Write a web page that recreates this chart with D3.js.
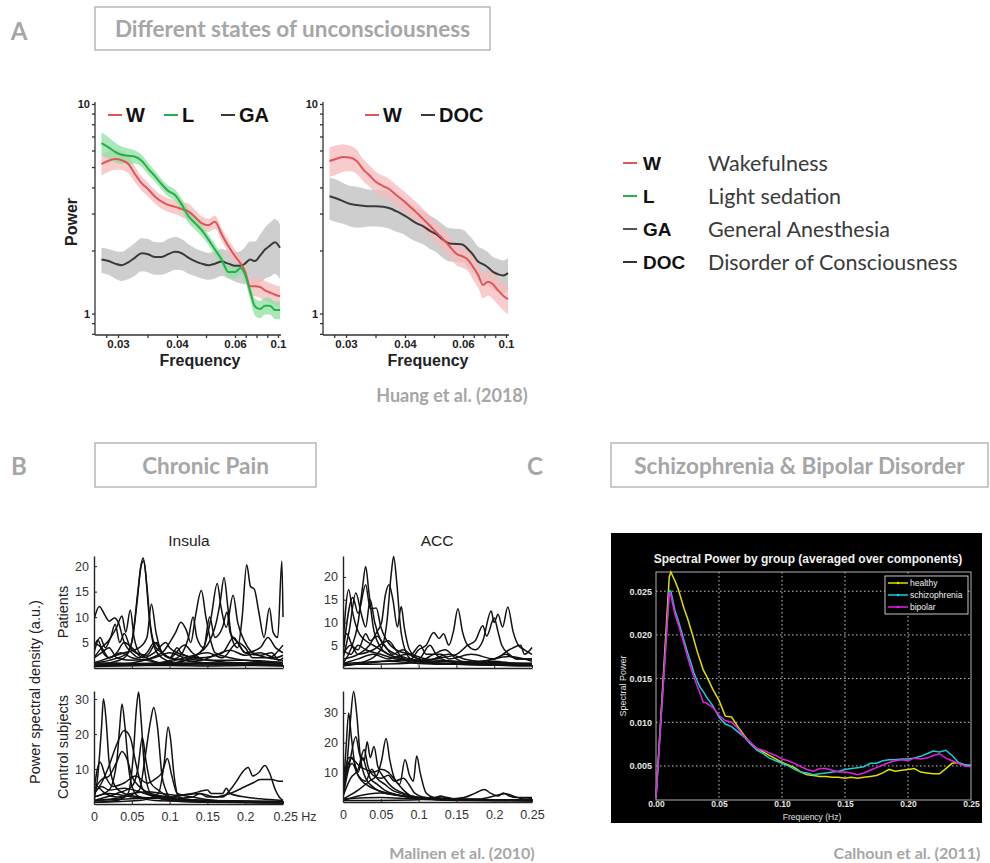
<!DOCTYPE html>
<html>
<head>
<meta charset="utf-8">
<script src="https://cdn.jsdelivr.net/npm/d3@7"></script>
<style>
  body { margin: 0; background: #fff; }
  svg { display: block; }
</style>
</head>
<body>
<svg id="fig" width="990" height="863"></svg>
<script>
// ---------------- Panel A: power spectra (log power, Huang et al. 2018) ----------------
const freqA = [0.0272,0.0284,0.0295,0.0306,0.0318,0.0329,0.0340,0.0351,0.0363,0.0374,0.0385,0.0397,0.0416,0.0439,0.0462,0.0485,0.0508,0.0531,0.0554,0.0577,0.0600,0.0653,0.0693,0.0740,0.0786,0.0833,0.0879,0.0926,0.0972,0.1019];
const freqTicksA = [0.03, 0.04, 0.06, 0.1];

// left plot: wakefulness, light sedation, general anesthesia
const wakeA     = [5.16,5.36,5.46,5.39,5.16,4.62,4.19,3.92,3.61,3.42,3.30,3.23,3.15,3.07,2.89,2.70,2.64,2.74,2.39,2.10,1.88,1.73,1.59,1.35,1.35,1.34,1.29,1.26,1.23,1.21];
const semWakeA  = [0.60,0.61,0.60,0.55,0.50,0.40,0.33,0.30,0.27,0.26,0.25,0.25,0.26,0.28,0.24,0.21,0.19,0.20,0.17,0.15,0.14,0.13,0.13,0.13,0.14,0.15,0.14,0.14,0.14,0.14];
const lightA    = [6.51,6.21,5.91,5.72,5.66,5.60,5.36,4.92,4.51,4.14,3.85,3.67,3.32,2.92,2.70,2.50,2.26,2.02,1.81,1.58,1.58,1.65,1.54,1.28,1.08,1.05,1.09,1.09,1.04,1.04];
const semLightA = [0.81,0.73,0.64,0.55,0.48,0.40,0.36,0.31,0.27,0.24,0.23,0.23,0.22,0.21,0.18,0.16,0.13,0.12,0.11,0.10,0.11,0.11,0.11,0.11,0.10,0.10,0.10,0.10,0.10,0.10];
const anesA     = [1.81,1.78,1.73,1.70,1.76,1.85,1.94,1.92,1.86,1.86,1.92,1.97,1.94,1.85,1.78,1.73,1.70,1.73,1.77,1.73,1.69,1.69,1.73,1.81,1.78,1.89,2.02,2.11,2.19,2.06];
const semAnesA  = [0.25,0.25,0.26,0.27,0.30,0.33,0.35,0.35,0.33,0.33,0.35,0.35,0.33,0.30,0.27,0.26,0.25,0.26,0.26,0.26,0.27,0.30,0.35,0.40,0.43,0.49,0.55,0.61,0.64,0.60];

// right plot: wakefulness vs disorder of consciousness
const wakeB     = [5.35,5.48,5.59,5.55,5.35,4.88,4.56,4.24,4.06,3.91,3.68,3.46,3.25,3.04,2.83,2.63,2.44,2.27,2.09,1.93,1.87,1.79,1.67,1.53,1.37,1.42,1.38,1.29,1.22,1.17];
const semWakeB  = [0.85,0.87,0.84,0.78,0.70,0.59,0.53,0.50,0.48,0.46,0.43,0.40,0.38,0.36,0.33,0.31,0.29,0.27,0.24,0.23,0.22,0.21,0.22,0.20,0.19,0.20,0.21,0.19,0.18,0.18];
const docB      = [3.63,3.54,3.44,3.34,3.30,3.27,3.25,3.25,3.23,3.18,3.08,2.96,2.83,2.70,2.61,2.49,2.39,2.25,2.16,2.15,2.13,2.01,1.91,1.77,1.72,1.66,1.58,1.54,1.52,1.56];
const semDocB   = [0.83,0.81,0.76,0.73,0.73,0.69,0.65,0.65,0.65,0.64,0.62,0.56,0.54,0.49,0.47,0.45,0.43,0.41,0.39,0.39,0.38,0.36,0.34,0.32,0.31,0.30,0.28,0.28,0.27,0.28];

const legendCodes = ["W", "L", "GA", "DOC"];
const legendNames = ["Wakefulness", "Light sedation", "General Anesthesia", "Disorder of Consciousness"];

// ---------------- Panel B: individual spectra (Malinen et al. 2010) ----------------
// each curve is a list of [frequency (Hz), power (a.u.)]
const insulaPatients = [
  [[0,0.5],[0.02,1],[0.04,2],[0.05,5],[0.057,13],[0.062,20],[0.065,21.6],[0.068,19],[0.073,10],[0.08,4],[0.09,2],[0.11,1],[0.15,0.8],[0.2,0.6],[0.25,0.5]],
  [[0,1],[0.02,1.5],[0.045,3],[0.052,7],[0.058,15],[0.063,20.5],[0.066,21],[0.07,16],[0.075,8],[0.082,4],[0.09,3],[0.1,2],[0.12,1.5],[0.15,1],[0.2,1],[0.25,1.2]],
  [[0,9.5],[0.007,12.1],[0.014,10.5],[0.02,9.2],[0.027,9.8],[0.032,9],[0.04,5],[0.05,3],[0.06,2],[0.07,3],[0.08,5],[0.09,3],[0.1,2],[0.12,4.5],[0.13,3],[0.15,1.5],[0.2,1],[0.25,1]],
  [[0,2],[0.01,4],[0.02,5.5],[0.03,8],[0.037,10.2],[0.042,7],[0.048,11.4],[0.053,6],[0.06,3],[0.07,2],[0.09,1],[0.12,1],[0.25,0.5]],
  [[0,3],[0.008,6],[0.015,4],[0.022,6],[0.028,8.6],[0.034,5],[0.04,6.8],[0.048,4],[0.055,3],[0.07,2.5],[0.083,5],[0.09,3],[0.1,2],[0.11,4],[0.115,3],[0.13,2],[0.16,1.5],[0.2,1.5],[0.25,1]],
  [[0,1],[0.02,2],[0.04,3],[0.06,4],[0.07,6],[0.076,12.5],[0.082,7],[0.09,3],[0.1,2],[0.12,1.5],[0.15,1],[0.25,0.8]],
  [[0,0.5],[0.05,1],[0.09,3],[0.1,5],[0.108,7],[0.115,9],[0.122,7.5],[0.128,5],[0.134,10],[0.142,15.2],[0.148,10],[0.155,5],[0.16,3],[0.18,2],[0.2,1.5],[0.25,1]],
  [[0,0.5],[0.1,1],[0.13,2],[0.145,4],[0.155,10],[0.163,16.6],[0.168,12],[0.175,8],[0.184,14.3],[0.19,9],[0.2,5],[0.21,3],[0.23,2],[0.25,1.5]],
  [[0,0.3],[0.1,0.8],[0.14,3],[0.16,8],[0.167,13],[0.172,17.8],[0.177,12],[0.182,6],[0.19,4],[0.196,10],[0.202,20.3],[0.207,16],[0.212,15.5],[0.218,11],[0.225,6],[0.232,11.8],[0.237,7],[0.243,6],[0.2485,21],[0.25,10]],
  [[0,0.8],[0.08,1],[0.11,2],[0.125,6],[0.131,10],[0.136,6],[0.145,4],[0.153,10],[0.16,6],[0.17,8],[0.176,11],[0.18,7],[0.19,5],[0.2,3],[0.22,4],[0.23,6],[0.24,4],[0.25,3]],
  [[0,4],[0.005,5.5],[0.012,3],[0.02,2],[0.035,3],[0.05,2],[0.07,1.5],[0.09,1],[0.12,2],[0.15,3],[0.17,2],[0.19,5],[0.2,4],[0.21,2],[0.23,2],[0.25,4.5]],
  [[0,1],[0.03,1],[0.06,0.8],[0.1,0.7],[0.15,0.6],[0.2,0.7],[0.25,0.6]],
  [[0,5],[0.01,4],[0.02,2],[0.03,3],[0.04,5],[0.05,4],[0.065,2],[0.08,3],[0.095,5],[0.1,4],[0.11,3],[0.14,2],[0.17,3],[0.185,6],[0.19,5],[0.2,3],[0.22,2.5],[0.235,3],[0.245,1.5],[0.25,2]],
  [[0,2],[0.01,3],[0.02,4],[0.03,2],[0.05,1.5],[0.08,2],[0.1,3],[0.12,2],[0.14,1.5],[0.16,2.5],[0.18,3.5],[0.2,2.5],[0.22,3],[0.24,2],[0.25,2.5]],
  [[0,0.5],[0.05,0.5],[0.1,0.5],[0.15,0.4],[0.2,0.5],[0.25,0.4]]
];
const insulaControls = [
  [[0,1],[0.005,8],[0.01,22],[0.0125,30],[0.016,24],[0.02,12],[0.028,5],[0.04,3],[0.06,2],[0.1,1.5],[0.15,1],[0.25,0.5]],
  [[0,2],[0.02,4],[0.03,12],[0.034,22],[0.037,28.6],[0.041,22],[0.046,10],[0.052,4],[0.06,2],[0.08,1],[0.12,0.8],[0.25,0.5]],
  [[0,0.5],[0.03,1],[0.045,3],[0.052,14],[0.056,27],[0.059,32],[0.062,25],[0.067,10],[0.075,3],[0.09,1.5],[0.12,1],[0.25,0.3]],
  [[0,1],[0.04,2],[0.06,4],[0.068,14],[0.075,24],[0.079,27.6],[0.084,22],[0.09,8],[0.095,4],[0.1,2],[0.13,1],[0.25,0.5]],
  [[0,0.5],[0.06,1],[0.085,3],[0.093,12],[0.098,22],[0.101,19],[0.106,8],[0.112,2],[0.13,1],[0.25,0.3]],
  [[0,3],[0.01,6],[0.02,11],[0.03,17],[0.04,21],[0.048,19],[0.055,12],[0.063,5],[0.07,3],[0.09,2],[0.12,1],[0.25,0.5]],
  [[0,1],[0.03,3],[0.05,5],[0.058,10],[0.064,19],[0.069,12],[0.075,6],[0.085,4],[0.1,2],[0.13,1],[0.25,0.5]],
  [[0,4],[0.01,7],[0.02,8],[0.03,12],[0.037,15],[0.045,12],[0.05,8],[0.06,5],[0.075,3],[0.1,2],[0.15,1],[0.25,0.8]],
  [[0,4],[0.008,12],[0.015,8],[0.025,5],[0.04,6],[0.055,8],[0.07,6],[0.08,7],[0.09,9],[0.097,13],[0.103,8],[0.11,3],[0.13,2],[0.16,1],[0.25,0.5]],
  [[0,2],[0.02,3],[0.05,2],[0.1,1.5],[0.13,2],[0.14,3],[0.15,2],[0.17,2],[0.18,4],[0.19,7],[0.196,9],[0.204,10.4],[0.21,8],[0.218,9],[0.226,11],[0.232,9],[0.24,4],[0.245,2],[0.25,1]],
  [[0,1],[0.05,1.5],[0.1,2],[0.14,3],[0.16,2],[0.18,3],[0.2,5],[0.21,6],[0.22,7],[0.235,7],[0.245,6.5],[0.25,6.5]],
  [[0,6],[0.005,5],[0.015,3],[0.03,2],[0.05,3],[0.07,3.5],[0.09,3],[0.11,2.5],[0.13,3],[0.15,4],[0.155,3],[0.17,3],[0.175,4.5],[0.18,3],[0.2,2],[0.22,1.5],[0.25,1]],
  [[0,3],[0.01,5],[0.02,4],[0.04,4.5],[0.06,3.5],[0.08,2],[0.1,1],[0.14,0.5],[0.25,0.3]]
];
const accPatients = [
  [[0,5],[0.0075,17.2],[0.013,12],[0.02,8],[0.03,6],[0.04,5],[0.05,4],[0.06,3],[0.08,2],[0.1,1.5],[0.15,1],[0.25,0.8]],
  [[0,2],[0.008,8],[0.017,16.5],[0.024,12],[0.03,9],[0.036,15],[0.042,10],[0.05,6],[0.06,4],[0.07,3],[0.09,2],[0.12,1.5],[0.25,1]],
  [[0,1],[0.01,4],[0.02,10],[0.026,18],[0.03,22.3],[0.034,17],[0.04,9],[0.048,5],[0.06,3],[0.08,2],[0.12,1],[0.25,0.5]],
  [[0,3],[0.013,15.5],[0.02,12],[0.03,18.3],[0.036,13],[0.044,13.2],[0.05,9],[0.058,6],[0.07,4],[0.09,3],[0.11,2],[0.15,1.5],[0.25,1]],
  [[0,2],[0.02,3],[0.035,5],[0.045,8],[0.051,10],[0.056,16],[0.061,18.3],[0.066,15],[0.072,9],[0.077,13.5],[0.081,9],[0.088,4],[0.1,2],[0.13,1],[0.25,0.6]],
  [[0,0.5],[0.03,1.5],[0.05,4],[0.058,10],[0.064,21],[0.067,24.5],[0.071,19],[0.076,9],[0.082,4],[0.09,2],[0.12,1],[0.25,0.5]],
  [[0,1],[0.05,1.5],[0.09,2],[0.1,4],[0.11,5],[0.12,7.8],[0.127,6.5],[0.133,7.5],[0.14,5],[0.146,8],[0.152,13],[0.158,8],[0.165,5],[0.175,4],[0.185,6],[0.196,12.5],[0.2,10],[0.205,11.8],[0.211,9],[0.218,13.4],[0.225,8],[0.232,5],[0.24,4],[0.25,3]],
  [[0,0.8],[0.08,1],[0.12,2],[0.15,3],[0.165,5],[0.175,6],[0.185,9.3],[0.19,7],[0.2,11],[0.205,8],[0.21,5],[0.22,3],[0.23,2],[0.25,2]],
  [[0,6],[0.005,7.5],[0.012,5],[0.02,4],[0.03,7.5],[0.036,6],[0.045,7],[0.055,5],[0.065,3],[0.08,4],[0.09,3],[0.102,5],[0.11,3],[0.13,3],[0.14,2],[0.17,3],[0.2,2],[0.22,4],[0.235,5],[0.24,3],[0.25,4.5]],
  [[0,0.5],[0.03,1],[0.06,1.5],[0.1,1],[0.15,0.8],[0.2,1],[0.25,0.6]],
  [[0,3],[0.01,5],[0.02,3],[0.04,4],[0.06,6],[0.07,4],[0.08,2],[0.1,1],[0.12,2],[0.14,3],[0.16,2],[0.18,1.5],[0.22,2.5],[0.25,1.5]],
  [[0,1],[0.02,2],[0.04,3],[0.06,2],[0.085,3],[0.1,2],[0.115,5],[0.123,3],[0.13,2],[0.16,1],[0.2,2],[0.215,3],[0.23,2],[0.25,2]],
  [[0,4],[0.01,3],[0.02,5],[0.03,4],[0.05,3],[0.07,2],[0.1,1.5],[0.12,3],[0.135,4],[0.15,2],[0.17,1],[0.2,1.5],[0.23,1],[0.25,1]]
];
const accControls = [
  [[0,1],[0.006,15],[0.01,28],[0.014,37.2],[0.018,30],[0.023,15],[0.03,8],[0.04,5],[0.055,3],[0.08,2],[0.12,1],[0.25,0.5]],
  [[0,3],[0.004,18],[0.0075,30],[0.011,22],[0.016,12],[0.022,8],[0.03,6],[0.045,4],[0.06,3],[0.09,1.5],[0.13,0.8],[0.25,0.5]],
  [[0,2],[0.008,12],[0.017,22],[0.022,16],[0.028,14],[0.032,20.3],[0.036,15],[0.041,18.7],[0.046,12],[0.055,8],[0.065,5],[0.08,3],[0.1,1.5],[0.14,0.8],[0.25,0.5]],
  [[0,1],[0.02,4],[0.035,7],[0.045,9],[0.051,14],[0.057,21.4],[0.062,14],[0.068,8],[0.075,6],[0.082,14.2],[0.088,9],[0.093,7],[0.0975,15.5],[0.102,10],[0.11,3],[0.12,1.5],[0.15,0.8],[0.25,0.5]],
  [[0,5],[0.008,15],[0.015,14],[0.022,12],[0.03,11],[0.04,10],[0.05,11],[0.06,10],[0.07,7],[0.08,4],[0.09,2],[0.1,1],[0.15,0.5],[0.25,0.4]],
  [[0,4],[0.006,12],[0.012,15],[0.02,10],[0.026,15],[0.03,12],[0.036,8],[0.045,6],[0.055,4],[0.07,2.5],[0.09,1.5],[0.12,1],[0.25,0.5]],
  [[0,2],[0.01,8],[0.02,11],[0.028,17.7],[0.033,12],[0.04,9],[0.05,8],[0.06,9],[0.068,7],[0.08,8],[0.087,6],[0.095,3],[0.11,1.5],[0.15,1],[0.25,0.6]],
  [[0,1],[0.05,1.5],[0.1,1],[0.12,1.5],[0.13,2],[0.14,1],[0.16,1.5],[0.175,3],[0.187,4.2],[0.195,3],[0.205,2],[0.212,3],[0.22,2],[0.23,1.5],[0.25,1.5]],
  [[0,0.5],[0.1,0.8],[0.12,1],[0.13,1.8],[0.15,1],[0.18,1],[0.2,2],[0.215,2.8],[0.225,2],[0.24,1],[0.25,1.2]],
  [[0,6],[0.005,10],[0.012,13],[0.02,9],[0.03,7],[0.038,11],[0.045,8],[0.055,6],[0.065,4],[0.075,3],[0.09,2],[0.12,1],[0.25,0.5]],
  [[0,0.5],[0.02,2],[0.05,3],[0.08,2],[0.11,1],[0.15,0.7],[0.2,0.6],[0.25,0.5]]
];
const freqTicksB = [0, 0.05, 0.1, 0.15, 0.2, 0.25];

// ---------------- Panel C: group spectra (Calhoun et al. 2011) ----------------
const freqC = [0,0.0105,0.0118,0.015,0.0175,0.02,0.0225,0.025,0.0275,0.03,0.0325,0.035,0.0375,0.04,0.045,0.05,0.055,0.06,0.065,0.07,0.075,0.08,0.085,0.09,0.095,0.1,0.105,0.11,0.115,0.12,0.125,0.13,0.135,0.14,0.145,0.15,0.155,0.16,0.165,0.17,0.175,0.18,0.185,0.19,0.195,0.2,0.205,0.21,0.215,0.22,0.225,0.23,0.235,0.24,0.245,0.25];
const healthyC = [0.0014,0.0266,0.0272,0.0262,0.0253,0.0241,0.0229,0.0219,0.0207,0.0195,0.0182,0.0171,0.0160,0.0153,0.0138,0.0125,0.0107,0.0106,0.0095,0.0085,0.0076,0.0070,0.0066,0.0062,0.0058,0.0054,0.0051,0.0048,0.0043,0.0040,0.0039,0.0038,0.0038,0.0037,0.0037,0.0036,0.0037,0.0036,0.0037,0.0038,0.0039,0.0042,0.0046,0.0044,0.0045,0.0046,0.0047,0.0043,0.0042,0.0041,0.0041,0.0047,0.0053,0.0054,0.0051,0.0050];
const schizoC  = [0.0014,0.0251,0.0250,0.0228,0.0217,0.0205,0.0192,0.0180,0.0169,0.0157,0.0148,0.0140,0.0135,0.0129,0.0119,0.0106,0.0098,0.0095,0.0089,0.0083,0.0075,0.0068,0.0064,0.0059,0.0056,0.0053,0.0050,0.0046,0.0043,0.0042,0.0040,0.0041,0.0042,0.0043,0.0044,0.0046,0.0047,0.0048,0.0049,0.0053,0.0053,0.0056,0.0057,0.0057,0.0058,0.0058,0.0059,0.0061,0.0064,0.0067,0.0066,0.0068,0.0062,0.0054,0.0051,0.0051];
const bipolarC = [0.0014,0.0249,0.0245,0.0224,0.0213,0.0201,0.0188,0.0175,0.0163,0.0152,0.0142,0.0133,0.0123,0.0122,0.0117,0.0108,0.0102,0.0100,0.0093,0.0083,0.0077,0.0070,0.0068,0.0065,0.0062,0.0058,0.0056,0.0053,0.0049,0.0046,0.0044,0.0047,0.0047,0.0045,0.0043,0.0043,0.0042,0.0040,0.0042,0.0045,0.0048,0.0051,0.0054,0.0056,0.0057,0.0056,0.0059,0.0058,0.0059,0.0062,0.0064,0.0059,0.0056,0.0053,0.0050,0.0049];
const groupNamesC = ["healthy", "schizophrenia", "bipolar"];
const powerTicksC = [0.005, 0.01, 0.015, 0.02, 0.025];

// ======================================================================
const svg = d3.select("#fig");
const HEAD = "Lato, 'Open Sans', sans-serif";
const ARIAL = "'Liberation Sans', Arial, Helvetica, sans-serif";
const GREY = "#a6a6a6";

function panelLetter(x, y, t) {
  svg.append("text").attr("x", x).attr("y", y).attr("dominant-baseline", "central")
    .attr("text-anchor", "middle").attr("font-family", HEAD).attr("font-weight", 700)
    .attr("font-size", 24).attr("fill", GREY).text(t);
}
function titleBox(x, y, w, h, t) {
  svg.append("rect").attr("x", x).attr("y", y).attr("width", w).attr("height", h)
    .attr("fill", "#fff").attr("stroke", "#b8b8b8").attr("stroke-width", 1.5);
  svg.append("text").attr("x", x + w / 2).attr("y", y + h / 2).attr("dominant-baseline", "central")
    .attr("text-anchor", "middle").attr("font-family", HEAD).attr("font-weight", 700)
    .attr("font-size", 22.5).attr("fill", GREY).text(t);
}
function citation(x, y, t, size) {
  svg.append("text").attr("x", x).attr("y", y).attr("dominant-baseline", "central")
    .attr("text-anchor", "middle").attr("font-family", HEAD).attr("font-weight", 700)
    .attr("font-size", size).attr("fill", GREY).text(t);
}

panelLetter(19, 30, "A");
titleBox(95, 7, 395, 43, "Different states of unconsciousness");
panelLetter(19, 465, "B");
titleBox(95, 443, 221, 44, "Chronic Pain");
panelLetter(535, 465, "C");
titleBox(611, 443, 377, 44, "Schizophrenia & Bipolar Disorder");
citation(452, 395, "Huang et al. (2018)", 18);
citation(462, 852, "Malinen et al. (2010)", 16);
citation(907, 852, "Calhoun et al. (2011)", 16);

// ---------------- Panel A ----------------
const colW = "#e0555a", colL = "#24b04a", colG = "#3a3a3a";
const bandW = "#f6b9bb", bandL = "#8fe0a2", bandG = "#c9c9c9";

function spectrumPlot(ax, series, legend) {
  const g = svg.append("g");
  const x = d3.scaleLinear().domain(freqTicksA).range([ax + 23, ax + 82, ax + 140, ax + 183]);
  const y = d3.scaleLog().domain([0.79, 10]).range([335, 104]);

  series.forEach(s => {
    const area = d3.area().curve(d3.curveMonotoneX)
      .x((d, i) => x(freqA[i]))
      .y0((d, i) => y(s.mean[i] - s.sem[i]))
      .y1((d, i) => y(s.mean[i] + s.sem[i]));
    g.append("path").attr("d", area(s.mean)).attr("fill", s.band).attr("opacity", s.bandOpacity);
  });
  series.forEach(s => {
    const line = d3.line().curve(d3.curveMonotoneX).x((d, i) => x(freqA[i])).y(d => y(d));
    g.append("path").attr("d", line(s.mean)).attr("fill", "none")
      .attr("stroke", s.color).attr("stroke-width", 2);
  });

  // axes
  const yAxis = d3.axisLeft(y).tickValues([0.8, 0.9, 1, 2, 3, 4, 5, 6, 7, 8, 9, 10])
    .tickFormat(d => (d === 1 || d === 10) ? d : "").tickSize(3).tickSizeOuter(0).tickPadding(2);
  const ya = g.append("g").attr("transform", `translate(${ax},0)`).call(yAxis);
  const xAxis = d3.axisBottom(x).tickValues([0.028, 0.03, 0.035, 0.04, 0.05, 0.06, 0.07, 0.08, 0.09, 0.1])
    .tickFormat(d => freqTicksA.includes(d) ? d : "").tickSize(3).tickSizeOuter(0).tickPadding(2);
  const xa = g.append("g").attr("transform", "translate(0,335)").call(xAxis);
  xa.select(".domain").attr("d", `M${ax},0H${ax + 186}`);
  ya.select(".domain").attr("d", `M0,102V335`);
  [ya, xa].forEach(a => {
    a.selectAll(".domain, line").attr("stroke", "#333").attr("stroke-width", 1.3);
    a.selectAll("text").attr("font-family", ARIAL).attr("font-weight", 700)
      .attr("font-size", 11.5).attr("fill", "#222");
  });
  ya.selectAll("text").attr("font-size", 11);

  g.append("text").attr("x", ax + 105).attr("y", 366).attr("text-anchor", "middle")
    .attr("font-family", ARIAL).attr("font-weight", 700).attr("font-size", 16).attr("fill", "#222")
    .text("Frequency");

  // in-plot legend
  legend.forEach(l => {
    g.append("line").attr("x1", l.x).attr("x2", l.x + 14).attr("y1", 115).attr("y2", 115)
      .attr("stroke", l.color).attr("stroke-width", 2);
    g.append("text").attr("x", l.x + 18).attr("y", 115).attr("dominant-baseline", "central")
      .attr("font-family", ARIAL).attr("font-weight", 700).attr("font-size", 20).attr("fill", "#111")
      .text(l.code);
  });
  return g;
}

spectrumPlot(95, [
  { mean: anesA,  sem: semAnesA,  color: colG, band: bandG, bandOpacity: 0.9 },
  { mean: wakeA,  sem: semWakeA,  color: colW, band: bandW, bandOpacity: 0.75 },
  { mean: lightA, sem: semLightA, color: colL, band: bandL, bandOpacity: 0.75 }
], [
  { x: 108, code: legendCodes[0], color: colW },
  { x: 164, code: legendCodes[1], color: colL },
  { x: 221, code: legendCodes[2], color: colG }
]);
svg.append("text").attr("transform", "translate(71,222) rotate(-90)").attr("text-anchor", "middle")
  .attr("dominant-baseline", "central").attr("font-family", ARIAL).attr("font-weight", 700)
  .attr("font-size", 16).attr("fill", "#222").text("Power");

spectrumPlot(323, [
  { mean: docB,  sem: semDocB,  color: colG, band: bandG, bandOpacity: 0.9 },
  { mean: wakeB, sem: semWakeB, color: colW, band: bandW, bandOpacity: 0.75 }
], [
  { x: 365, code: legendCodes[0], color: colW },
  { x: 421, code: legendCodes[3], color: colG }
]);

// panel A key
const keyColors = [colW, colL, "#555", "#333"];
legendCodes.forEach((c, i) => {
  const yy = 163 + i * 33;
  svg.append("line").attr("x1", 623).attr("x2", 637).attr("y1", yy).attr("y2", yy)
    .attr("stroke", keyColors[i]).attr("stroke-width", 2);
  svg.append("text").attr("x", 643).attr("y", yy).attr("dominant-baseline", "central")
    .attr("font-family", ARIAL).attr("font-weight", 700).attr("font-size", 19).attr("fill", "#111").text(c);
  svg.append("text").attr("x", 708).attr("y", yy).attr("dominant-baseline", "central")
    .attr("font-family", HEAD).attr("font-size", 21.5).attr("fill", "#3a3a3a").text(legendNames[i]);
});

// ---------------- Panel B ----------------
function tracePlot(opts) {
  const g = svg.append("g");
  const x = d3.scaleLinear().domain([0, 0.25]).range([opts.x0, opts.x1]);
  const y = d3.scaleLinear().domain([0, opts.ymax]).range([opts.yb, opts.yt]);
  const clipId = "clip" + Math.round(opts.x0) + "_" + Math.round(opts.yb);
  g.append("clipPath").attr("id", clipId).append("rect")
    .attr("x", opts.x0).attr("y", opts.yt - 2).attr("width", opts.x1 - opts.x0 + 2).attr("height", opts.yb - opts.yt + 2);
  const line = d3.line().curve(d3.curveMonotoneX).x(d => x(d[0])).y(d => y(d[1]));
  const lines = g.append("g").attr("clip-path", `url(#${clipId})`);
  opts.curves.forEach(c => {
    lines.append("path").attr("d", line(c)).attr("fill", "none")
      .attr("stroke", "#111").attr("stroke-width", 1.5);
  });
  const ya = g.append("g").attr("transform", `translate(${opts.x0},0)`)
    .call(d3.axisLeft(y).tickValues(opts.yticks).tickSize(-3).tickSizeOuter(0).tickPadding(5));
  const xAxis = d3.axisBottom(x).tickValues(freqTicksB).tickSize(-3).tickSizeOuter(0).tickPadding(8)
    .tickFormat(opts.xlabels ? (d, i) => opts.xlabels[i] : () => "");
  const xa = g.append("g").attr("transform", `translate(0,${opts.yb})`).call(xAxis);
  [ya, xa].forEach(a => {
    a.selectAll(".domain").attr("stroke", "#222").attr("stroke-width", 1.4);
    a.selectAll("line").attr("stroke", "#222");
    a.selectAll("text").attr("font-family", ARIAL).attr("font-size", 12.5).attr("fill", "#333");
  });
  if (opts.xlabels && opts.lastAnchorStart) {
    xa.selectAll("text").filter((d, i) => i === freqTicksB.length - 1)
      .attr("text-anchor", "start").attr("dx", -10);
  }
  return g;
}

tracePlot({ curves: insulaPatients, x0: 94, x1: 283, yb: 668, yt: 556, ymax: 22, yticks: [5, 10, 15, 20] });
tracePlot({ curves: insulaControls, x0: 94, x1: 283, yb: 804, yt: 691, ymax: 32.3, yticks: [10, 20, 30],
  xlabels: ["0", "0.05", "0.1", "0.15", "0.2", "0.25 Hz"], lastAnchorStart: true });
tracePlot({ curves: accPatients, x0: 343, x1: 532, yb: 668, yt: 556, ymax: 24.6, yticks: [5, 10, 15, 20] });
tracePlot({ curves: accControls, x0: 343, x1: 532, yb: 802, yt: 691, ymax: 37.4, yticks: [10, 20, 30],
  xlabels: ["0", "0.05", "0.1", "0.15", "0.2", "0.25"] });

const bText = (x, y, t, size, rot) => svg.append("text")
  .attr("transform", `translate(${x},${y})` + (rot ? " rotate(-90)" : ""))
  .attr("text-anchor", "middle").attr("dominant-baseline", "central")
  .attr("font-family", ARIAL).attr("font-size", size).attr("fill", "#222").text(t);
bText(189, 540, "Insula", 15.5);
bText(437, 540, "ACC", 15.5);
bText(35, 692, "Power spectral density (a.u.)", 14.5, true);
bText(63, 612, "Patients", 14.5, true);
bText(63, 747, "Control subjects", 14.5, true);

// ---------------- Panel C ----------------
const gc = svg.append("g");
gc.append("rect").attr("x", 611).attr("y", 533).attr("width", 371).attr("height", 290).attr("fill", "#000");
const xC = d3.scaleLinear().domain([0, 0.25]).range([656, 971]);
const yC = d3.scaleLinear().domain([0.0011, 0.0272]).range([800, 572]);
const gridC = gc.append("g").attr("stroke", "#d8d8d8").attr("stroke-width", 0.9).attr("stroke-dasharray", "1.5,2.5");
freqTicksB.slice(1, -1).forEach(f => gridC.append("line").attr("x1", xC(f)).attr("x2", xC(f)).attr("y1", 572).attr("y2", 800));
powerTicksC.forEach(p => gridC.append("line").attr("x1", 656).attr("x2", 971).attr("y1", yC(p)).attr("y2", yC(p)));
gc.append("rect").attr("x", 656).attr("y", 572).attr("width", 315).attr("height", 228)
  .attr("fill", "none").attr("stroke", "#b0b0b0").attr("stroke-width", 1);

const colorsC = ["#dede00", "#19cfcf", "#e21fe2"];
[healthyC, schizoC, bipolarC].forEach((vals, k) => {
  const line = d3.line().x((d, i) => xC(freqC[i])).y(d => yC(d));
  gc.append("path").attr("d", line(vals)).attr("fill", "none").attr("stroke", colorsC[k]).attr("stroke-width", 1.5);
});

const yAxC = gc.append("g").attr("transform", "translate(656,0)")
  .call(d3.axisLeft(yC).tickValues(powerTicksC).tickSize(0).tickPadding(4));
const xAxC = gc.append("g").attr("transform", "translate(0,800)")
  .call(d3.axisBottom(xC).tickValues(freqTicksB).tickSize(0).tickPadding(1));
[yAxC, xAxC].forEach(a => {
  a.select(".domain").remove();
  a.selectAll("text").attr("font-family", ARIAL).attr("font-weight", 700).attr("font-size", 9).attr("fill", "#e6e6e6");
});
xAxC.selectAll("text").attr("font-size", 8.5);
gc.append("text").attr("x", 808).attr("y", 559).attr("text-anchor", "middle").attr("dominant-baseline", "central")
  .attr("font-family", ARIAL).attr("font-weight", 700).attr("font-size", 12).attr("fill", "#f2f2f2")
  .text("Spectral Power by group (averaged over components)");
gc.append("text").attr("x", 812).attr("y", 816.5).attr("text-anchor", "middle").attr("dominant-baseline", "central")
  .attr("font-family", ARIAL).attr("font-size", 8.5).attr("fill", "#e0e0e0").text("Frequency (Hz)");
gc.append("text").attr("transform", "translate(623,686) rotate(-90)").attr("text-anchor", "middle")
  .attr("dominant-baseline", "central").attr("font-family", ARIAL).attr("font-size", 9).attr("fill", "#e0e0e0")
  .text("Spectral Power");

// legend
gc.append("rect").attr("x", 885).attr("y", 576).attr("width", 83).attr("height", 38)
  .attr("fill", "#000").attr("stroke", "#dcdcdc").attr("stroke-width", 0.9);
groupNamesC.forEach((n, i) => {
  const yy = 583 + i * 12;
  gc.append("line").attr("x1", 888).attr("x2", 908).attr("y1", yy).attr("y2", yy)
    .attr("stroke", colorsC[i]).attr("stroke-width", 1.5);
  gc.append("circle").attr("cx", 898).attr("cy", yy).attr("r", 1.3).attr("fill", colorsC[i]);
  gc.append("text").attr("x", 910).attr("y", yy).attr("dominant-baseline", "central")
    .attr("font-family", ARIAL).attr("font-size", 8.5).attr("fill", "#f0f0f0").text(n);
});
</script>
</body>
</html>
